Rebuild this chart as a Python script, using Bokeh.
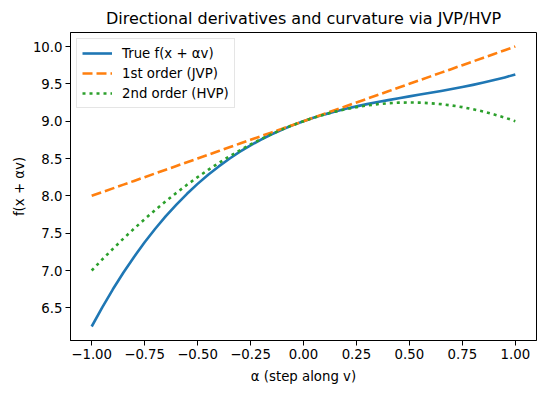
from bokeh.plotting import figure
from bokeh.models import Range1d, FixedTicker, Legend, LegendItem
from bokeh.embed import file_html
from bokeh.resources import INLINE

# Data
alpha = [-1.0, -0.95, -0.9, -0.85, -0.8, -0.75, -0.7, -0.65, -0.6, -0.55, -0.5,
         -0.45, -0.4, -0.35, -0.3, -0.25, -0.2, -0.15, -0.1, -0.05, 0.0,
         0.05, 0.1, 0.15, 0.2, 0.25, 0.3, 0.35, 0.4, 0.45, 0.5,
         0.55, 0.6, 0.65, 0.7, 0.75, 0.8, 0.85, 0.9, 0.95, 1.0]
true_f = [6.250, 6.507, 6.748, 6.973, 7.182, 7.378, 7.559, 7.728, 7.883, 8.027, 8.160,
          8.283, 8.394, 8.497, 8.591, 8.677, 8.754, 8.825, 8.889, 8.947, 9.000,
          9.048, 9.091, 9.130, 9.165, 9.198, 9.228, 9.256, 9.282, 9.308, 9.332,
          9.356, 9.380, 9.405, 9.431, 9.458, 9.486, 9.517, 9.550, 9.586, 9.625]
first_order = [8.00, 8.05, 8.10, 8.15, 8.20, 8.25, 8.30, 8.35, 8.40, 8.45, 8.50,
               8.55, 8.60, 8.65, 8.70, 8.75, 8.80, 8.85, 8.90, 8.95, 9.00,
               9.05, 9.10, 9.15, 9.20, 9.25, 9.30, 9.35, 9.40, 9.45, 9.50,
               9.55, 9.60, 9.65, 9.70, 9.75, 9.80, 9.85, 9.90, 9.95, 10.00]
second_order = [7.000, 7.148, 7.290, 7.428, 7.560, 7.688, 7.810, 7.928, 8.040, 8.148, 8.250,
                8.348, 8.440, 8.528, 8.610, 8.688, 8.760, 8.828, 8.890, 8.948, 9.000,
                9.048, 9.090, 9.128, 9.160, 9.188, 9.210, 9.228, 9.240, 9.248, 9.250,
                9.248, 9.240, 9.228, 9.210, 9.188, 9.160, 9.128, 9.090, 9.048, 9.000]

x_ticks = [-1.0, -0.75, -0.5, -0.25, 0.0, 0.25, 0.5, 0.75, 1.0]
y_ticks = [6.5, 7.0, 7.5, 8.0, 8.5, 9.0, 9.5, 10.0]

FONT = "DejaVu Sans"

p = figure(width=545, height=393, output_backend="svg", toolbar_location=None,
           x_range=Range1d(-1.1, 1.1), y_range=Range1d(6.0625, 10.1875),
           title="Directional derivatives and curvature via JVP/HVP",
           min_border_left=70, min_border_right=9, min_border_top=32, min_border_bottom=53)

p.title.align = "center"
p.title.text_font = FONT
p.title.text_font_size = "16px"
p.title.text_font_style = "normal"
p.title.text_color = "black"
p.title.standoff = 10

p.xgrid.visible = False
p.ygrid.visible = False
p.outline_line_color = "black"
p.outline_line_width = 1

for ax in (p.xaxis[0], p.yaxis[0]):
    ax.axis_line_color = "black"
    ax.major_tick_line_color = "black"
    ax.major_tick_out = 5
    ax.major_tick_in = 0
    ax.minor_tick_line_color = None
    ax.major_label_text_font = FONT
    ax.major_label_text_font_size = "13.3px"
    ax.major_label_text_color = "black"
    ax.axis_label_text_font = FONT
    ax.axis_label_text_font_size = "13.3px"
    ax.axis_label_text_font_style = "normal"
    ax.axis_label_text_color = "black"
    ax.major_label_standoff = 3

p.xaxis.ticker = FixedTicker(ticks=x_ticks)
p.xaxis.major_label_overrides = {t: ("%.2f" % t).replace("-", "\u2212") for t in x_ticks}
p.yaxis.ticker = FixedTicker(ticks=y_ticks)
p.yaxis.major_label_overrides = {t: "%.1f" % t for t in y_ticks}
p.xaxis.axis_label = "\u03b1 (step along v)"
p.yaxis.axis_label = "f(x + \u03b1v)"
p.xaxis.axis_label_standoff = 7
p.yaxis.axis_label_standoff = 3

r1 = p.line(alpha, true_f, line_color="#1f77b4", line_width=2.6, line_join="round")
r2 = p.line(alpha, first_order, line_color="#ff7f0e", line_width=2.6, line_dash="10 4")
r3 = p.line(alpha, second_order, line_color="#2ca02c", line_width=2.6, line_dash="3 4")

legend = Legend(items=[
    LegendItem(label="True f(x + \u03b1v)", renderers=[r1]),
    LegendItem(label="1st order (JVP)", renderers=[r2]),
    LegendItem(label="2nd order (HVP)", renderers=[r3]),
], location="top_left")
legend.margin = 6
legend.padding = 5
legend.spacing = 2
legend.label_height = 18
legend.glyph_height = 18
legend.glyph_width = 30
legend.label_standoff = 10
legend.label_text_font = FONT
legend.label_text_font_size = "13.3px"
legend.label_text_color = "black"
legend.border_line_color = "#cccccc"
legend.border_line_width = 1
legend.background_fill_alpha = 0.8
p.add_layout(legend)

open("out.html", "w").write(file_html(p, INLINE))
